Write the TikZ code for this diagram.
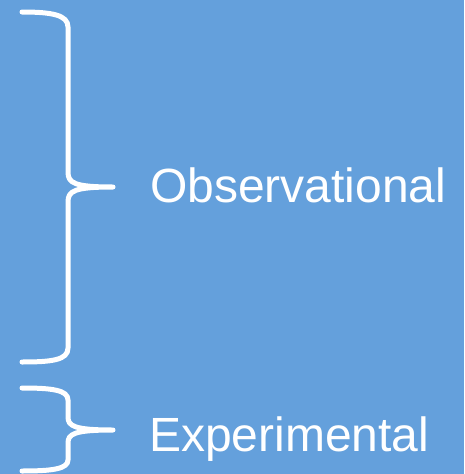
\documentclass[tikz,border=0pt]{standalone}
\usepackage{fontspec}
\setmainfont{Liberation Sans}
\definecolor{slideblue}{RGB}{100,160,220}
\begin{document}
\begin{tikzpicture}[
  x=1pt, y=-1pt,
  brc/.style={draw=white, line width=5pt, line cap=round, line join=round},
  lbl/.style={text=white, font=\fontsize{48}{50}\selectfont, anchor=base west, inner sep=0pt}
]
  \fill[slideblue] (0,0) rectangle (464,474);

  % --- observational brace
  \coordinate (obstop) at (22,12);
  \coordinate (obstip) at (113,187);
  \coordinate (obsbot) at (22,362);
  \draw[brc] (obstop) .. controls (52,12) and (68,15) .. (68,27) -- (68,172)
    .. controls (68,183) and (74,187) .. (obstip)
    .. controls (74,187) and (68,191) .. (68,202) -- (68,348)
    .. controls (68,360) and (52,362) .. (obsbot);
  \node[lbl] (obs) at (150,202) {Observational};

  % --- experimental brace
  \coordinate (exptop) at (22,388);
  \coordinate (exptip) at (113,430);
  \coordinate (expbot) at (22,471);
  \draw[brc] (exptop) .. controls (52,388) and (68,390) .. (68,400) -- (68,417)
    .. controls (68,426) and (74,430) .. (exptip)
    .. controls (74,430) and (68,434) .. (68,443) -- (68,460)
    .. controls (68,469) and (52,471) .. (expbot);
  \node[lbl] (exp) at (149,451) {Experimental};
\end{tikzpicture}
\end{document}
